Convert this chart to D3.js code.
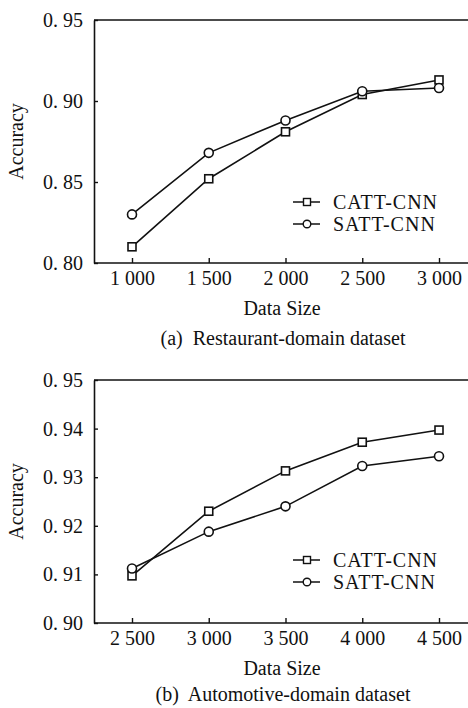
<!DOCTYPE html>
<html>
<head>
<meta charset="utf-8">
<script src="https://cdn.jsdelivr.net/npm/d3@7"></script>
<style>
  html, body { margin: 0; padding: 0; background: #fff; }
  svg text { font-family: "Liberation Serif", "DejaVu Serif", serif !important; white-space: pre; fill: #111; }
</style>
</head>
<body>
<script>
// panel (a): restaurant domain
const sizesA = [1000, 1500, 2000, 2500, 3000];
const cattA = [0.810, 0.852, 0.881, 0.904, 0.913];
const sattA = [0.830, 0.868, 0.888, 0.906, 0.908];
const yTicksA = [0.80, 0.85, 0.90, 0.95];

// panel (b): automotive domain
const sizesB = [2500, 3000, 3500, 4000, 4500];
const cattB = [0.9097, 0.9230, 0.9313, 0.9372, 0.9397];
const sattB = [0.9112, 0.9188, 0.9240, 0.9323, 0.9343];
const yTicksB = [0.90, 0.91, 0.92, 0.93, 0.94, 0.95];

const seriesNames = ["CATT-CNN", "SATT-CNN"];

const W = 468, H = 708;
const svg = d3.select("body").append("svg")
  .attr("width", W)
  .attr("height", H)
  .style("display", "block");

// "0.95" -> "0. 95", "1000" -> "1 000"
const fmtY = d => d.toFixed(2).replace(".", ". ");
const fmtX = d => String(d).replace(/(\d)(\d{3})$/, "$1 $2");

function drawPanel(p) {
  const g = svg.append("g");
  const left = 94, right = 468;

  const x = d3.scaleLinear().domain([p.sizes[0], p.sizes[4]]).range([132, 439]);
  const y = d3.scaleLinear().domain([p.yTicks[0], p.yTicks[p.yTicks.length - 1]])
    .range([p.bottom, p.top]);

  // frame: top, left, bottom (no right side)
  g.append("line").attr("x1", left).attr("x2", right).attr("y1", p.top).attr("y2", p.top)
    .attr("stroke", "#111").attr("stroke-width", 1.6);

  const yAxis = g.append("g")
    .attr("transform", `translate(${left},0)`)
    .call(d3.axisLeft(y).tickValues(p.yTicks).tickSizeInner(-4).tickSizeOuter(0)
      .tickPadding(11).tickFormat(fmtY));
  yAxis.select(".domain").attr("stroke", "#111").attr("stroke-width", 1.6);
  yAxis.selectAll(".tick line").attr("stroke", "#111").attr("stroke-width", 1.4);
  yAxis.selectAll("text").attr("font-size", 20);

  const xAxis = g.append("g")
    .attr("transform", `translate(0,${p.bottom})`)
    .call(d3.axisBottom(x).tickValues(p.sizes).tickSizeInner(-5).tickSizeOuter(0)
      .tickPadding(8).tickFormat(fmtX));
  xAxis.select(".domain").attr("d", `M${left},0H${right}`)
    .attr("stroke", "#111").attr("stroke-width", 1.6);
  xAxis.selectAll(".tick line").attr("stroke", "#111").attr("stroke-width", 1.4);
  xAxis.selectAll("text").attr("font-size", 20);

  // lines
  const line = d3.line().x((d, i) => x(p.sizes[i])).y(d => y(d));
  [p.catt, p.satt].forEach(vals => {
    g.append("path").datum(vals).attr("d", line)
      .attr("fill", "none").attr("stroke", "#111").attr("stroke-width", 1.6);
  });

  // markers
  g.selectAll(".sq").data(p.catt).enter().append("rect")
    .attr("x", (d, i) => x(p.sizes[i]) - 4).attr("y", d => y(d) - 4)
    .attr("width", 8).attr("height", 8)
    .attr("fill", "#fff").attr("stroke", "#111").attr("stroke-width", 1.6);
  g.selectAll(".ci").data(p.satt).enter().append("circle")
    .attr("cx", (d, i) => x(p.sizes[i])).attr("cy", d => y(d)).attr("r", 4.5)
    .attr("fill", "#fff").attr("stroke", "#111").attr("stroke-width", 1.6);

  // legend
  seriesNames.forEach((name, i) => {
    const ly = p.legendY + i * 22;
    g.append("line").attr("x1", 293).attr("x2", 320).attr("y1", ly).attr("y2", ly)
      .attr("stroke", "#111").attr("stroke-width", 1.5);
    if (i === 0) {
      g.append("rect").attr("x", 303.5).attr("y", ly - 3.5).attr("width", 7).attr("height", 7)
        .attr("fill", "#fff").attr("stroke", "#111").attr("stroke-width", 1.4);
    } else {
      g.append("circle").attr("cx", 307).attr("cy", ly).attr("r", 3.8)
        .attr("fill", "#fff").attr("stroke", "#111").attr("stroke-width", 1.4);
    }
    g.append("text").attr("x", 333).attr("y", ly + 7).attr("font-size", 20)
      .attr("letter-spacing", 1).text(name);
  });

  // titles
  g.append("text").attr("transform", `translate(23,${(p.top + p.bottom) / 2}) rotate(-90)`)
    .attr("text-anchor", "middle").attr("font-size", 20).text("Accuracy");
  g.append("text").attr("x", 282).attr("y", p.bottom + 52)
    .attr("text-anchor", "middle").attr("font-size", 20).text("Data Size");
  g.append("text").attr("x", 283).attr("y", p.bottom + p.capOff)
    .attr("text-anchor", "middle").attr("font-size", 20).text(p.caption);
}

drawPanel({
  sizes: sizesA, catt: cattA, satt: sattA, yTicks: yTicksA,
  top: 20, bottom: 263, legendY: 202, capOff: 82,
  caption: "(a)  Restaurant-domain dataset"
});
drawPanel({
  sizes: sizesB, catt: cattB, satt: sattB, yTicks: yTicksB,
  top: 380, bottom: 623, legendY: 560, capOff: 78,
  caption: "(b)  Automotive-domain dataset"
});
</script>
</body>
</html>
